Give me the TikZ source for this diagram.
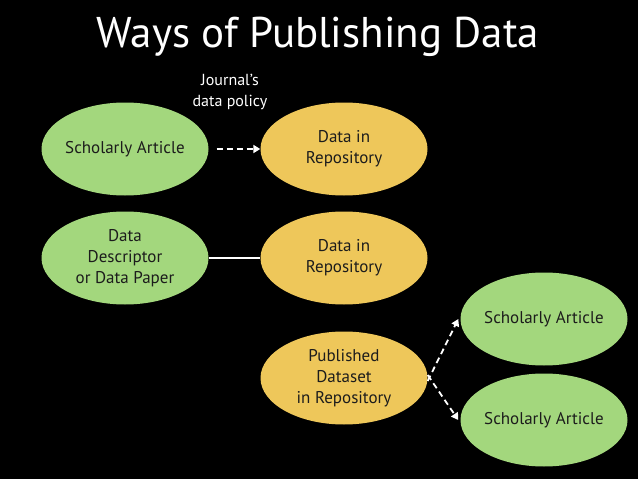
\documentclass[tikz,border=0pt]{standalone}
\usepackage{fontspec}
\setmainfont{PT Sans}
\definecolor{ArticleGreen}{RGB}{163, 215, 125}
\definecolor{RepoGold}{RGB}{238, 199, 90}
\definecolor{InkDark}{RGB}{28, 28, 28}
\usetikzlibrary{shapes.geometric,arrows.meta,positioning}
\tikzset{
  bubble/.style={ellipse, minimum width=167pt, minimum height=93pt, inner xsep=-6pt, inner ysep=0pt,
                 align=center, text=InkDark, font=\fontsize{17}{21}\selectfont},
  article/.style={bubble, fill=ArticleGreen},
  repo/.style={bubble, fill=RepoGold},
  linkline/.style={draw=white, line width=1.8pt},
  linkdash/.style={linkline, dashed, dash pattern=on 6pt off 4pt, -{Triangle[length=7pt,width=8pt]}}
}

\begin{document}
\begin{tikzpicture}[x=1pt,y=-1pt]
  \fill[black] (0,0) rectangle (638,479);
  \useasboundingbox (0,0) rectangle (638,479);

  \node[text=white, font=\fontsize{43}{48}\selectfont] (title) at (318,37) {Ways of Publishing Data};
  \node[text=white, align=center, font=\fontsize{16}{21}\selectfont] (policy) at (230,92)
    {Journal's\\data policy};

  % first way
  \node[article] (artA) at (125,149) {Scholarly Article};
  \node[repo] (repoA) at (344,149) {Data in\\Repository};
  \draw[linkdash] (artA.east) ++(8,0) coordinate (startA) (startA) -- (repoA.west);

  % second way
  \node[article] (descr) at (125,258) {Data\\Descriptor\\or Data Paper};
  \node[repo] (repoB) at (344,258) {Data in\\Repository};
  \draw[linkline] (descr.east) -- (repoB.west);

  % third way
  \node[repo] (dataset) at (344,378) {Published\\Dataset\\in Repository};
  \node[article] (artB) at (544,319) {Scholarly Article};
  \node[article] (artC) at (544,420) {Scholarly Article};
  \draw[linkdash] ([yshift=-3pt]dataset.east) -- ([xshift=-2pt]artB.west);
  \draw[linkdash] ([yshift=3pt]dataset.east) -- ([xshift=-2pt]artC.west);
\end{tikzpicture}
\end{document}
